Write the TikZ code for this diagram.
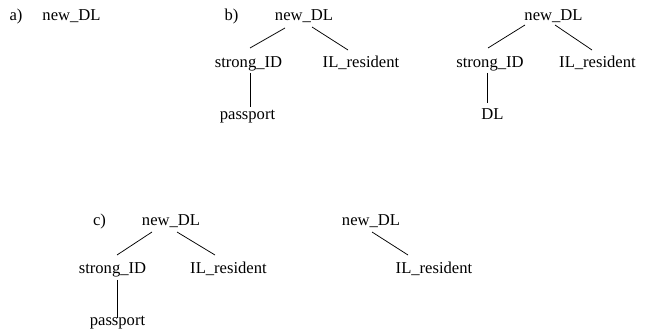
\documentclass[tikz,border=0pt]{standalone}
\usepackage{fontspec}
\setmainfont{Liberation Serif}
\begin{document}
\begin{tikzpicture}[x=1pt,y=-1pt,
  word/.style={font=\fontsize{16.6}{19}\selectfont, inner sep=0pt, anchor=base},
  branch/.style={line width=0.75pt, black}]
\useasboundingbox (0,0) rectangle (653,336);

% a) single root
\node[word] (la) at (16,21) {a)};
\node[word] (ra) at (71.5,21) {new\_DL};

% b) full tree with passport
\node[word] (lb) at (231.5,21) {b)};
\node[word] (rb) at (304,21) {new\_DL};
\node[word] (sb) at (248.5,68) {strong\_ID};
\node[word] (ib) at (361,68) {IL\_resident};
\node[word] (pb) at (247.5,120) {passport};
\draw[branch] ([shift={(-19,7)}]rb.base) -- ([shift={(1.5,-20)}]sb.base);
\draw[branch] ([shift={(8,6)}]rb.base) -- ([shift={(-13,-18)}]ib.base);
\draw[branch] ([shift={(1.5,5)}]sb.base) -- ([shift={(2.5,-13)}]pb.base);

% tree with DL leaf
\node[word] (rt) at (553.5,21) {new\_DL};
\node[word] (st) at (490,68) {strong\_ID};
\node[word] (it) at (597.5,68) {IL\_resident};
\node[word] (dt) at (492.5,120) {DL};
\draw[branch] ([shift={(-28.5,4)}]rt.base) -- ([shift={(-2,-20)}]st.base);
\draw[branch] ([shift={(1.5,4)}]rt.base) -- ([shift={(-5.5,-18)}]it.base);
\draw[branch] ([shift={(-3,5)}]st.base) -- ([shift={(-5.5,-17)}]dt.base);

% c) full tree with passport
\node[word] (lc) at (99.5,226) {c)};
\node[word] (rc) at (171,226) {new\_DL};
\node[word] (sc) at (112.5,274) {strong\_ID};
\node[word] (ic) at (228.5,274) {IL\_resident};
\node[word] (pc) at (117.5,326) {passport};
\draw[branch] ([shift={(-19,6)}]rc.base) -- ([shift={(4.5,-19)}]sc.base);
\draw[branch] ([shift={(6,6)}]rc.base) -- ([shift={(-13.5,-19)}]ic.base);
\draw[branch] ([shift={(4.5,6)}]sc.base) -- ([shift={(-0.5,-8)}]pc.base);

% reduced tree
\node[word] (rd) at (371,226) {new\_DL};
\node[word] (id) at (434,274) {IL\_resident};
\draw[branch] ([shift={(1,6)}]rd.base) -- ([shift={(-26,-19)}]id.base);
\end{tikzpicture}
\end{document}
